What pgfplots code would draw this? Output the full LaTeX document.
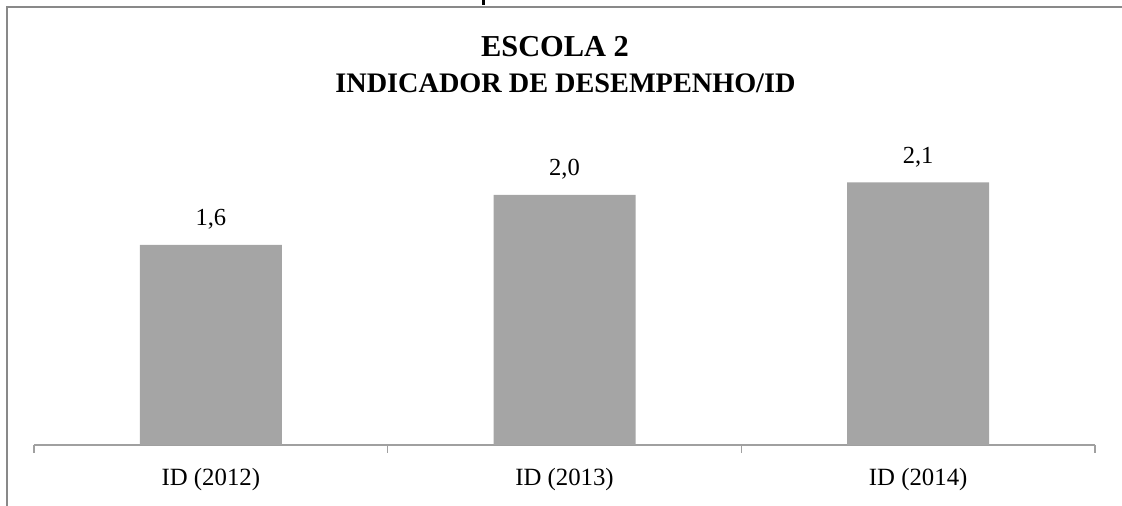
\documentclass[border=0pt]{standalone}
\usepackage{fontspec}
\setmainfont{Liberation Serif}
\usepackage{pgfplots}
\pgfplotsset{compat=1.18}
\definecolor{bargray}{RGB}{165,165,165}
\definecolor{axisgray}{RGB}{160,160,160}
\definecolor{framegray}{RGB}{137,137,137}
\begin{document}
\begin{tikzpicture}
% page area: 1 px = 0.75 pt
\useasboundingbox (0,0) rectangle (841.5pt,379.5pt);
% outer chart frame (only top and left edges visible)
\draw[framegray, line width=1.6pt] (5.25pt,-2pt) -- (5.25pt,374.25pt) -- (845pt,374.25pt);
% stub of text above the frame
\fill[black] (361.5pt,376pt) rectangle (363.75pt,381pt);
% chart title
\node[anchor=base, font=\fontsize{22.8}{26}\selectfont\bfseries] at (416.25pt,336.75pt) {ESCOLA 2};
\node[anchor=base, font=\fontsize{21.2}{24}\selectfont\bfseries] at (424.1pt,309.75pt) {INDICADOR DE DESEMPENHO/ID};
\begin{axis}[
  at={(25.5pt,45.75pt)}, anchor=south west,
  scale only axis,
  width=795.75pt, height=234.375pt,
  xmin=-0.5, xmax=2.5,
  ymin=0, ymax=2.5,
  clip=false,
  axis x line=bottom,
  axis y line=none,
  x axis line style={-, draw=axisgray, line width=1pt},
  xtick={0,1,2},
  xticklabels={ID (2012),ID (2013),ID (2014)},
  major tick length=0pt,
  minor xtick={-0.5,0.5,1.5,2.5},
  minor tick length=6pt,
  tick align=outside,
  minor tick style={draw=axisgray, line width=1pt},
  xticklabel style={font=\fontsize{18.6}{20}\selectfont, anchor=base, yshift=-30.75pt, inner sep=0pt},
  ybar,
  bar width=106.5pt,
  nodes near coords,
  every node near coord/.append style={font=\fontsize{18.4}{20}\selectfont, anchor=base, yshift=14.25pt, inner sep=0pt},
  /pgf/number format/.cd, fixed, fixed zerofill, precision=1, use comma, assume math mode=true,
]
\addplot[fill=bargray, draw=none] coordinates {(0,1.6) (1,2.0) (2,2.1)};
\end{axis}
\end{tikzpicture}
\end{document}
